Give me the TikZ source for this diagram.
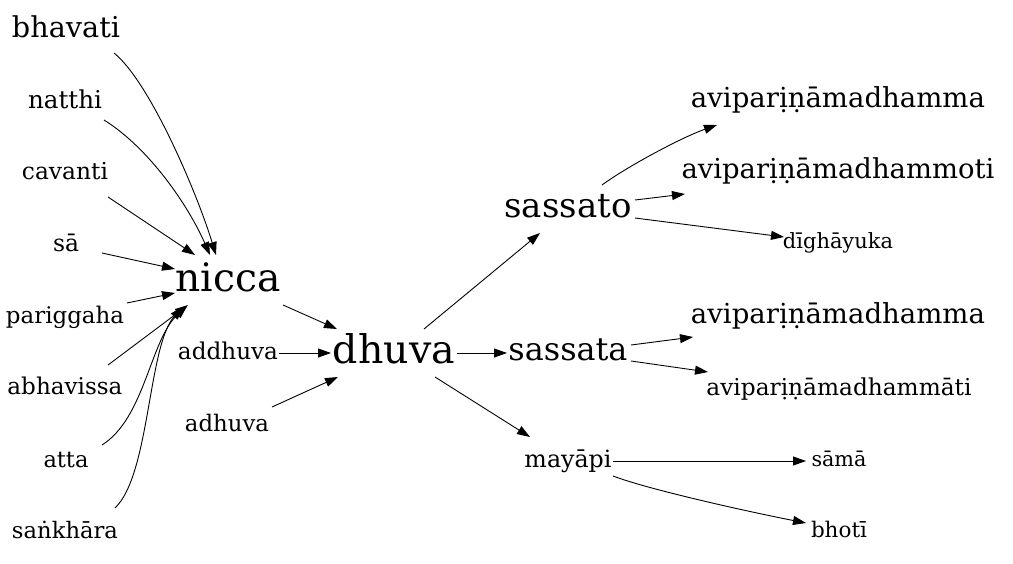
\documentclass[tikz,border=0pt]{standalone}
\usepackage{fontspec}
\usepackage{graphicx}
\setmainfont{DejaVu Serif}
\usetikzlibrary{arrows.meta}
\newcommand{\tw}[2]{\resizebox{#1pt}{!}{#2}}
\begin{document}
\begin{tikzpicture}[x=1pt,y=-1pt,
  lbl/.style={anchor=base, inner sep=0pt},
  edge/.style={-{Triangle[length=13pt,width=9pt]}, line width=0.9pt}]
\useasboundingbox (0,0) rectangle (1013,563);
% left column
\node[lbl] (bhavati)   at (66,37)  {\tw{108}{bhavati}};
\node[lbl] (natthi)    at (65,108) {\tw{74}{natthi}};
\node[lbl] (cavanti)   at (65,179) {\tw{86}{cavanti}};
\node[lbl] (sa)        at (66,251) {\tw{26}{sā}};
\node[lbl] (pariggaha) at (65,323) {\tw{118}{pariggaha}};
\node[lbl] (abhavissa) at (65,394) {\tw{115}{abhavissa}};
\node[lbl] (atta)      at (66,467) {\tw{45}{atta}};
\node[lbl] (sankhara)  at (65,538) {\tw{106}{saṅkhāra}};
% second column
\node[lbl] (nicca)   at (228,291) {\tw{105}{nicca}};
\node[lbl] (addhuva) at (228,359) {\tw{100}{addhuva}};
\node[lbl] (adhuva)  at (227,431) {\tw{84}{adhuva}};
% centre
\node[lbl] (dhuva)   at (394,363) {\tw{122}{dhuva}};
% middle column
\node[lbl] (sassato) at (568,217) {\tw{127}{sassato}};
\node[lbl] (sassata) at (568,360) {\tw{119}{sassata}};
\node[lbl] (mayapi)  at (568,467) {\tw{87}{mayāpi}};
% right column
\node[lbl] (avA)   at (838,107) {\tw{294}{aviparịṇāmadhamma}};
\node[lbl] (avB)   at (838,178) {\tw{313}{aviparịṇāmadhammoti}};
\node[lbl] (digh)  at (838,248) {\tw{110}{dīghāyuka}};
\node[lbl] (avC)   at (838,323) {\tw{294}{aviparịṇāmadhamma}};
\node[lbl] (avD)   at (839,395) {\tw{265}{aviparịṇāmadhammāti}};
\node[lbl] (sama)  at (839,466) {\tw{55}{sāmā}};
\node[lbl] (bhoti) at (839,537) {\tw{56}{bhotī}};
% edges into nicca
\draw[edge] ([shift={(48,16)}]bhavati.base) .. controls +(35,28) and +(-20,-65) .. ([shift={(-12,-36)}]nicca.base);
\draw[edge] ([shift={(39,12)}]natthi.base) .. controls +(45,28) and +(-22,-50) .. ([shift={(-18,-36)}]nicca.base);
\draw[edge] ([shift={(43,18)}]cavanti.base) -- ([shift={(-33,-36)}]nicca.base);
\draw[edge] ([shift={(36,2)}]sa.base) -- ([shift={(-53,-22)}]nicca.base);
\draw[edge] ([shift={(62,-20)}]pariggaha.base) -- ([shift={(-53,2)}]nicca.base);
\draw[edge] ([shift={(43,-29)}]abhavissa.base) -- ([shift={(-40,14)}]nicca.base);
\draw[edge] ([shift={(36,-22)}]atta.base) .. controls +(43,-27) and +(-37,34) .. ([shift={(-41,15)}]nicca.base);
\draw[edge] ([shift={(50,-30)}]sankhara.base) .. controls +(35,-33) and +(-35,38) .. ([shift={(-45,16)}]nicca.base);
% into dhuva
\draw[edge] ([shift={(55,14)}]nicca.base) -- ([shift={(-57,-34)}]dhuva.base);
\draw[edge] ([shift={(51,-6)}]addhuva.base) -- ([shift={(-63,-10)}]dhuva.base);
\draw[edge] ([shift={(45,-24)}]adhuva.base) -- ([shift={(-56,14)}]dhuva.base);
% out of dhuva
\draw[edge] ([shift={(30,-34)}]dhuva.base) -- ([shift={(-28,16)}]sassato.base);
\draw[edge] ([shift={(63,-10)}]dhuva.base) -- ([shift={(-61,-7)}]sassata.base);
\draw[edge] ([shift={(41,14)}]dhuva.base) -- ([shift={(-38,-30)}]mayapi.base);
% out of sassato
\draw[edge] ([shift={(34,-32)}]sassato.base) .. controls +(23,-17) and +(-37,13) .. ([shift={(-121,18)}]avA.base);
\draw[edge] ([shift={(67,-17)}]sassato.base) -- ([shift={(-153,16)}]avB.base);
\draw[edge] ([shift={(67,1)}]sassato.base) -- ([shift={(-54,-11)}]digh.base);
% out of sassata
\draw[edge] ([shift={(63,-15)}]sassata.base) -- ([shift={(-145,14)}]avC.base);
\draw[edge] ([shift={(63,1)}]sassata.base) -- ([shift={(-131,-23)}]avD.base);
% out of mayapi
\draw[edge] ([shift={(45,-6)}]mayapi.base) -- ([shift={(-33,-5)}]sama.base);
\draw[edge] ([shift={(45,9)}]mayapi.base) .. controls +(37,14) and +(-56,-11) .. ([shift={(-33,-14)}]bhoti.base);
\end{tikzpicture}
\end{document}
